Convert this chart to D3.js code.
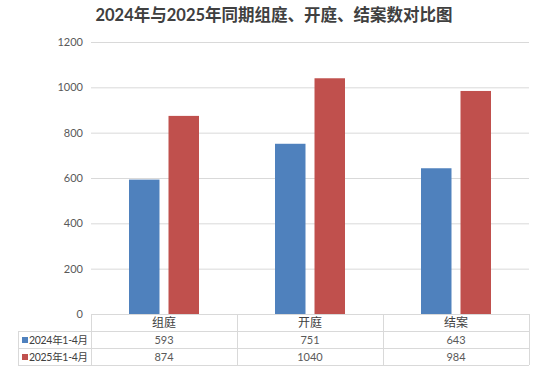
<!doctype html>
<html lang="zh">
<head>
<meta charset="utf-8">
<title>组庭、开庭、结案数对比</title>
<script src="https://d3js.org/d3.v7.min.js"></script>
<style>
  body { margin: 0; background: #fff; }
  text { font-family: Lato, "Noto Sans CJK SC", sans-serif; }
</style>
</head>
<body>
<div id="chart"></div>
<script>
// data
var categories = ["组庭", "开庭", "结案"];
var seriesNames = ["2024年1-4月", "2025年1-4月"];
var values2024 = [593, 751, 643];
var values2025 = [874, 1040, 984];
var yTicks = [0, 200, 400, 600, 800, 1000, 1200];
var colors = ["#4f81bd", "#c0504d"];

var seriesValues = [values2024, values2025];

var W = 540, H = 375;
var plotLeft = 91, plotRight = 529, plotTop = 42, base = 314;
var rowH = 17, tableLeft = 18;

var svg = d3.select("#chart").append("svg")
  .attr("width", W).attr("height", H);

svg.append("text")
  .attr("x", 274).attr("y", 21)
  .attr("text-anchor", "middle")
  .style("font-size", "16.5px").style("font-weight", "bold")
  .style("fill", "#404040")
  .text("2024年与2025年同期组庭、开庭、结案数对比图");

var y = d3.scaleLinear().domain([0, 1200]).range([base, plotTop]);
var x0 = d3.scaleBand().domain(categories).range([plotLeft, plotRight]);
var bw = x0.bandwidth();
var x1 = d3.scaleBand().domain(seriesNames)
  .range([bw / 2 - 35, bw / 2 + 35]).paddingInner(0.228);

// gridlines and tick labels
svg.append("g").selectAll("line").data(yTicks.filter(d => d > 0)).enter()
  .append("line")
  .attr("x1", plotLeft).attr("x2", plotRight)
  .attr("y1", d => y(d) + 0.5).attr("y2", d => y(d) + 0.5)
  .style("stroke", "#d9d9d9").style("stroke-width", 1);

svg.append("g").selectAll("text").data(yTicks).enter()
  .append("text")
  .attr("x", 83).attr("y", d => y(d) + 4)
  .attr("text-anchor", "end")
  .style("font-size", "11px").style("fill", "#595959")
  .text(d => d);

// bars
seriesNames.forEach(function (s, si) {
  svg.append("g").selectAll("rect").data(seriesValues[si]).enter()
    .append("rect")
    .attr("x", (d, i) => x0(categories[i]) + x1(s))
    .attr("width", x1.bandwidth())
    .attr("y", d => y(d))
    .attr("height", d => base - y(d))
    .style("fill", colors[si]);
});

// data table
var grid = svg.append("g").style("stroke", "#d9d9d9").style("stroke-width", 1);
grid.append("line").attr("x1", plotLeft).attr("x2", plotRight).attr("y1", base + 0.5).attr("y2", base + 0.5);
[1, 2, 3].forEach(function (r) {
  var yy = base + r * rowH + 0.5;
  grid.append("line").attr("x1", tableLeft).attr("x2", plotRight).attr("y1", yy).attr("y2", yy);
});
grid.append("line").attr("x1", tableLeft + 0.5).attr("x2", tableLeft + 0.5)
  .attr("y1", base + rowH).attr("y2", base + 3 * rowH);
categories.forEach(function (c) {
  grid.append("line").attr("x1", x0(c) + 0.5).attr("x2", x0(c) + 0.5)
    .attr("y1", base).attr("y2", base + 3 * rowH);
});
grid.append("line").attr("x1", plotRight + 0.5).attr("x2", plotRight + 0.5)
  .attr("y1", base).attr("y2", base + 3 * rowH);

svg.append("g").selectAll("text").data(categories).enter()
  .append("text")
  .attr("x", d => x0(d) + bw / 2).attr("y", base + 13)
  .attr("text-anchor", "middle")
  .style("font-size", "12px").style("fill", "#404040")
  .text(d => d);

seriesNames.forEach(function (s, si) {
  var ry = base + (si + 1) * rowH;
  svg.append("rect").attr("x", 22).attr("y", ry + 6).attr("width", 6).attr("height", 6)
    .style("fill", colors[si]);
  svg.append("text").attr("x", 29).attr("y", ry + 13)
    .style("font-size", "10.5px").style("fill", "#404040")
    .style("letter-spacing", "-0.3px")
    .text(s);
  svg.append("g").selectAll("text").data(seriesValues[si]).enter()
    .append("text")
    .attr("x", (d, i) => x0(categories[i]) + bw / 2).attr("y", ry + 13)
    .attr("text-anchor", "middle")
    .style("font-size", "11px").style("fill", "#595959")
    .text(d => d);
});
</script>
</body>
</html>
